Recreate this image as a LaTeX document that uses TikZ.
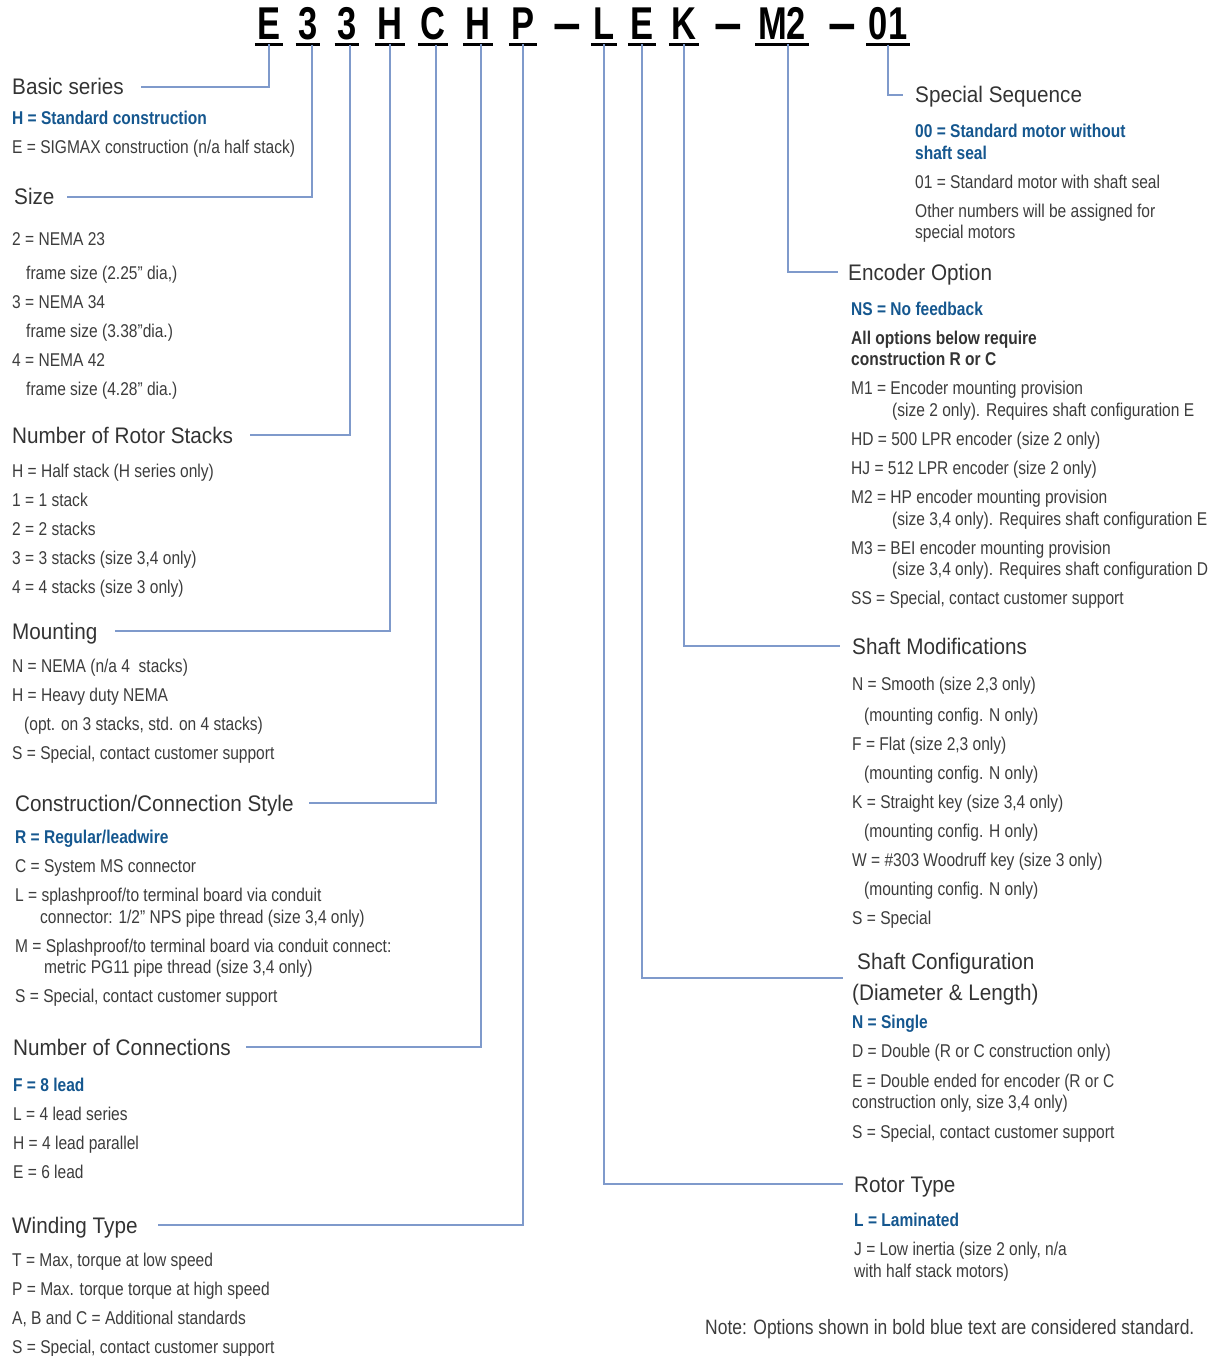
\documentclass[tikz,border=0pt]{standalone}
\usepackage{fontspec}
\setmainfont{Liberation Sans}
\newfontfamily\bodyfam{Liberation Sans}[FakeStretch=0.84]
\newfontfamily\headfam{Liberation Sans}[FakeStretch=0.92]
\newfontfamily\codefam{Liberation Sans}[FakeStretch=0.75]
\usepackage{xcolor}
\usetikzlibrary{positioning}
\definecolor{leadblue}{HTML}{7F9ACB}
\definecolor{stdblue}{HTML}{15578F}
\definecolor{txtgray}{HTML}{3C3C3C}
\definecolor{headgray}{HTML}{333333}
\newcommand{\stdopt}[1]{\textcolor{stdblue}{\bfseries #1}}

\begin{document}
\begin{tikzpicture}[x=1pt, y=-1pt,
    every node/.style={inner sep=0pt, anchor=base west, text=txtgray},
    head/.style={font=\headfam\fontsize{22.5}{31}\selectfont, text=headgray,
                 text height=16pt, text depth=0pt, align=left},
    opts/.style={font=\bodyfam\fontsize{18.5}{29}\selectfont, align=left},
    code/.style={font=\codefam\bfseries\fontsize{46}{46}\selectfont, text=black,
                 anchor=base, inner xsep=2.5pt, inner ysep=4pt},
    sep/.style={font=\headfam\bfseries\fontsize{54}{54}\selectfont, text=black,
                anchor=base},
    uline/.style={line width=3pt, black},
    lead/.style={draw=leadblue, line width=1.3pt},
  ]
  \useasboundingbox (0,0) rectangle (1212,1356);

  % part number
  \node[code] (cE)  at (269,40) {E};
  \node[code] (cS1) at (308,40) {3};
  \node[code] (cS2) at (347,40) {3};
  \node[code] (cH1) at (390,40) {H};
  \node[code] (cC)  at (433,40) {C};
  \node[code] (cH2) at (478,40) {H};
  \node[code] (cP)  at (523,40) {P};
  \node[sep]  (d1)  at (567,42) {–};
  \node[code] (cL)  at (604,40) {L};
  \node[code] (cE2) at (642,40) {E};
  \node[code] (cK)  at (684,40) {K};
  \node[sep]  (d2)  at (728,42) {–};
  \node[code] (cM)  at (782,40) {M2};
  \node[sep]  (d3)  at (842,42) {–};
  \node[code] (cN)  at (888,40) {01};
  \foreach \c in {cE,cS1,cS2,cH1,cC,cH2,cP,cL,cE2,cK,cM,cN}
    \draw[uline] (\c.south west) -- (\c.south east);

  % left column (option blocks sit on their last baseline)
  \node[head] (basic) at (12,95) {Basic series};
  \node[opts] (basicopt) at (12,153.5)
    {\stdopt{H = Standard construction}\\
     E = SIGMAX construction (n/a half stack)};

  \node[head] (size) at (14,205) {Size};
  \node[opts] (sizeopt) at (12,395.5)
    {2 = NEMA 23\\[5pt]
     \hspace*{14pt}frame size (2.25” dia,)\\
     3 = NEMA 34\\
     \hspace*{14pt}frame size (3.38”dia.)\\
     4 = NEMA 42\\
     \hspace*{14pt}frame size (4.28” dia.)};

  \node[head] (stacks) at (12,443) {Number of Rotor Stacks};
  \node[opts] (stacksopt) at (12,593.5)
    {H = Half stack (H series only)\\
     1 = 1 stack\\
     2 = 2 stacks\\
     3 = 3 stacks (size 3,4 only)\\
     4 = 4 stacks (size 3 only)};

  \node[head] (mount) at (12,639) {Mounting};
  \node[opts] (mountopt) at (12,759.5)
    {N = NEMA (n/a 4~ stacks)\\
     H = Heavy duty NEMA\\
     \hspace*{12pt}(opt. on 3 stacks, std. on 4 stacks)\\
     S = Special, contact customer support};

  \node[head] (constr) at (15,811) {Construction/Connection Style};
  \node[opts] (constropt) at (15,1002.5)
    {\stdopt{R = Regular/leadwire}\\
     C = System MS connector\\
     L = splashproof/to terminal board via conduit\\[-7pt]
     \hspace*{25pt}connector: 1/2” NPS pipe thread (size 3,4 only)\\
     M = Splashproof/to terminal board via conduit connect:\\[-8pt]
     \hspace*{29pt}metric PG11 pipe thread (size 3,4 only)\\
     S = Special, contact customer support};

  \node[head] (conn) at (13,1055) {Number of Connections};
  \node[opts] (connopt) at (13,1178.5)
    {\stdopt{F = 8 lead}\\
     L = 4 lead series\\
     H = 4 lead parallel\\
     E = 6 lead};

  \node[head] (wind) at (12,1233) {Winding Type};
  \node[opts] (windopt) at (12,1353.5)
    {T = Max, torque at low speed\\
     P = Max. torque torque at high speed\\
     A, B and C = Additional standards\\
     S = Special, contact customer support};

  % right column
  \node[head] (seq) at (915,103) {Special Sequence};
  \node[opts] (seqopt) at (915,238.5)
    {\stdopt{00 = Standard motor without}\\[-7pt]
     \stdopt{shaft seal}\\
     01 = Standard motor with shaft seal\\
     Other numbers will be assigned for\\[-8pt]
     special motors};

  \node[head] (enc) at (848,280) {Encoder Option};
  \node[opts] (encopt) at (851,604.5)
    {\stdopt{NS = No feedback}\\
     \textcolor{headgray}{\bfseries All options below require}\\[-8pt]
     \textcolor{headgray}{\bfseries construction R or C}\\
     M1 = Encoder mounting provision\\[-7pt]
     \hspace*{41pt}(size 2 only). Requires shaft configuration E\\
     HD = 500 LPR encoder (size 2 only)\\
     HJ = 512 LPR encoder (size 2 only)\\
     M2 = HP encoder mounting provision\\[-7pt]
     \hspace*{41pt}(size 3,4 only). Requires shaft configuration E\\
     M3 = BEI encoder mounting provision\\[-8pt]
     \hspace*{41pt}(size 3,4 only). Requires shaft configuration D\\
     SS = Special, contact customer support};

  \node[head] (shmod) at (852,654) {Shaft Modifications};
  \node[opts] (shmodopt) at (852,924.5)
    {N = Smooth (size 2,3 only)\\[2pt]
     \hspace*{12pt}(mounting config. N only)\\
     F = Flat (size 2,3 only)\\
     \hspace*{12pt}(mounting config. N only)\\
     K = Straight key (size 3,4 only)\\
     \hspace*{12pt}(mounting config. H only)\\
     W = \#303 Woodruff key (size 3 only)\\
     \hspace*{12pt}(mounting config. N only)\\
     S = Special};

  \node[head] (shcfg) at (852,1000)
    {\hspace*{5pt}Shaft Configuration\\(Diameter \& Length)};
  \node[opts] (shcfgopt) at (852,1138.5)
    {\stdopt{N = Single}\\
     D = Double (R or C construction only)\\[1pt]
     E = Double ended for encoder (R or C\\[-8pt]
     construction only, size 3,4 only)\\[1pt]
     S = Special, contact customer support};

  \node[head] (rotor) at (854,1192) {Rotor Type};
  \node[opts] (rotoropt) at (854,1277.5)
    {\stdopt{L = Laminated}\\
     J = Low inertia (size 2 only, n/a\\[-7pt]
     with half stack motors)};

  \node[opts, font=\bodyfam\fontsize{20.8}{29}\selectfont] (note) at (705,1334.5)
    {Note: Options shown in bold blue text are considered standard.};

  % leads
  \draw[lead] (cE.south) |- ([xshift=17pt]basic.east);
  \draw[lead] ([xshift=4pt]cS1.south) |- ([xshift=12pt]size.east);
  \draw[lead] ([xshift=3pt]cS2.south) |- ([xshift=17pt]stacks.east);
  \draw[lead] (cH1.south) |- ([xshift=17pt]mount.east);
  \draw[lead] ([xshift=3pt]cC.south) |- ([xshift=15pt]constr.east);
  \draw[lead] ([xshift=3pt]cH2.south) |- ([xshift=15pt]conn.east);
  \draw[lead] (cP.south) |- ([xshift=20pt]wind.east);
  \draw[lead] (cL.south) |- ([xshift=-11pt]rotor.west);
  \draw[lead] (cE2.south) |- ([xshift=-9pt,yshift=14pt]shcfg.west);
  \draw[lead] (cK.south) |- ([xshift=-12pt]shmod.west);
  \draw[lead] ([xshift=6pt]cM.south) |- ([xshift=-10pt]enc.west);
  \draw[lead] (cN.south) |- ([xshift=-12pt]seq.west);
\end{tikzpicture}
\end{document}
